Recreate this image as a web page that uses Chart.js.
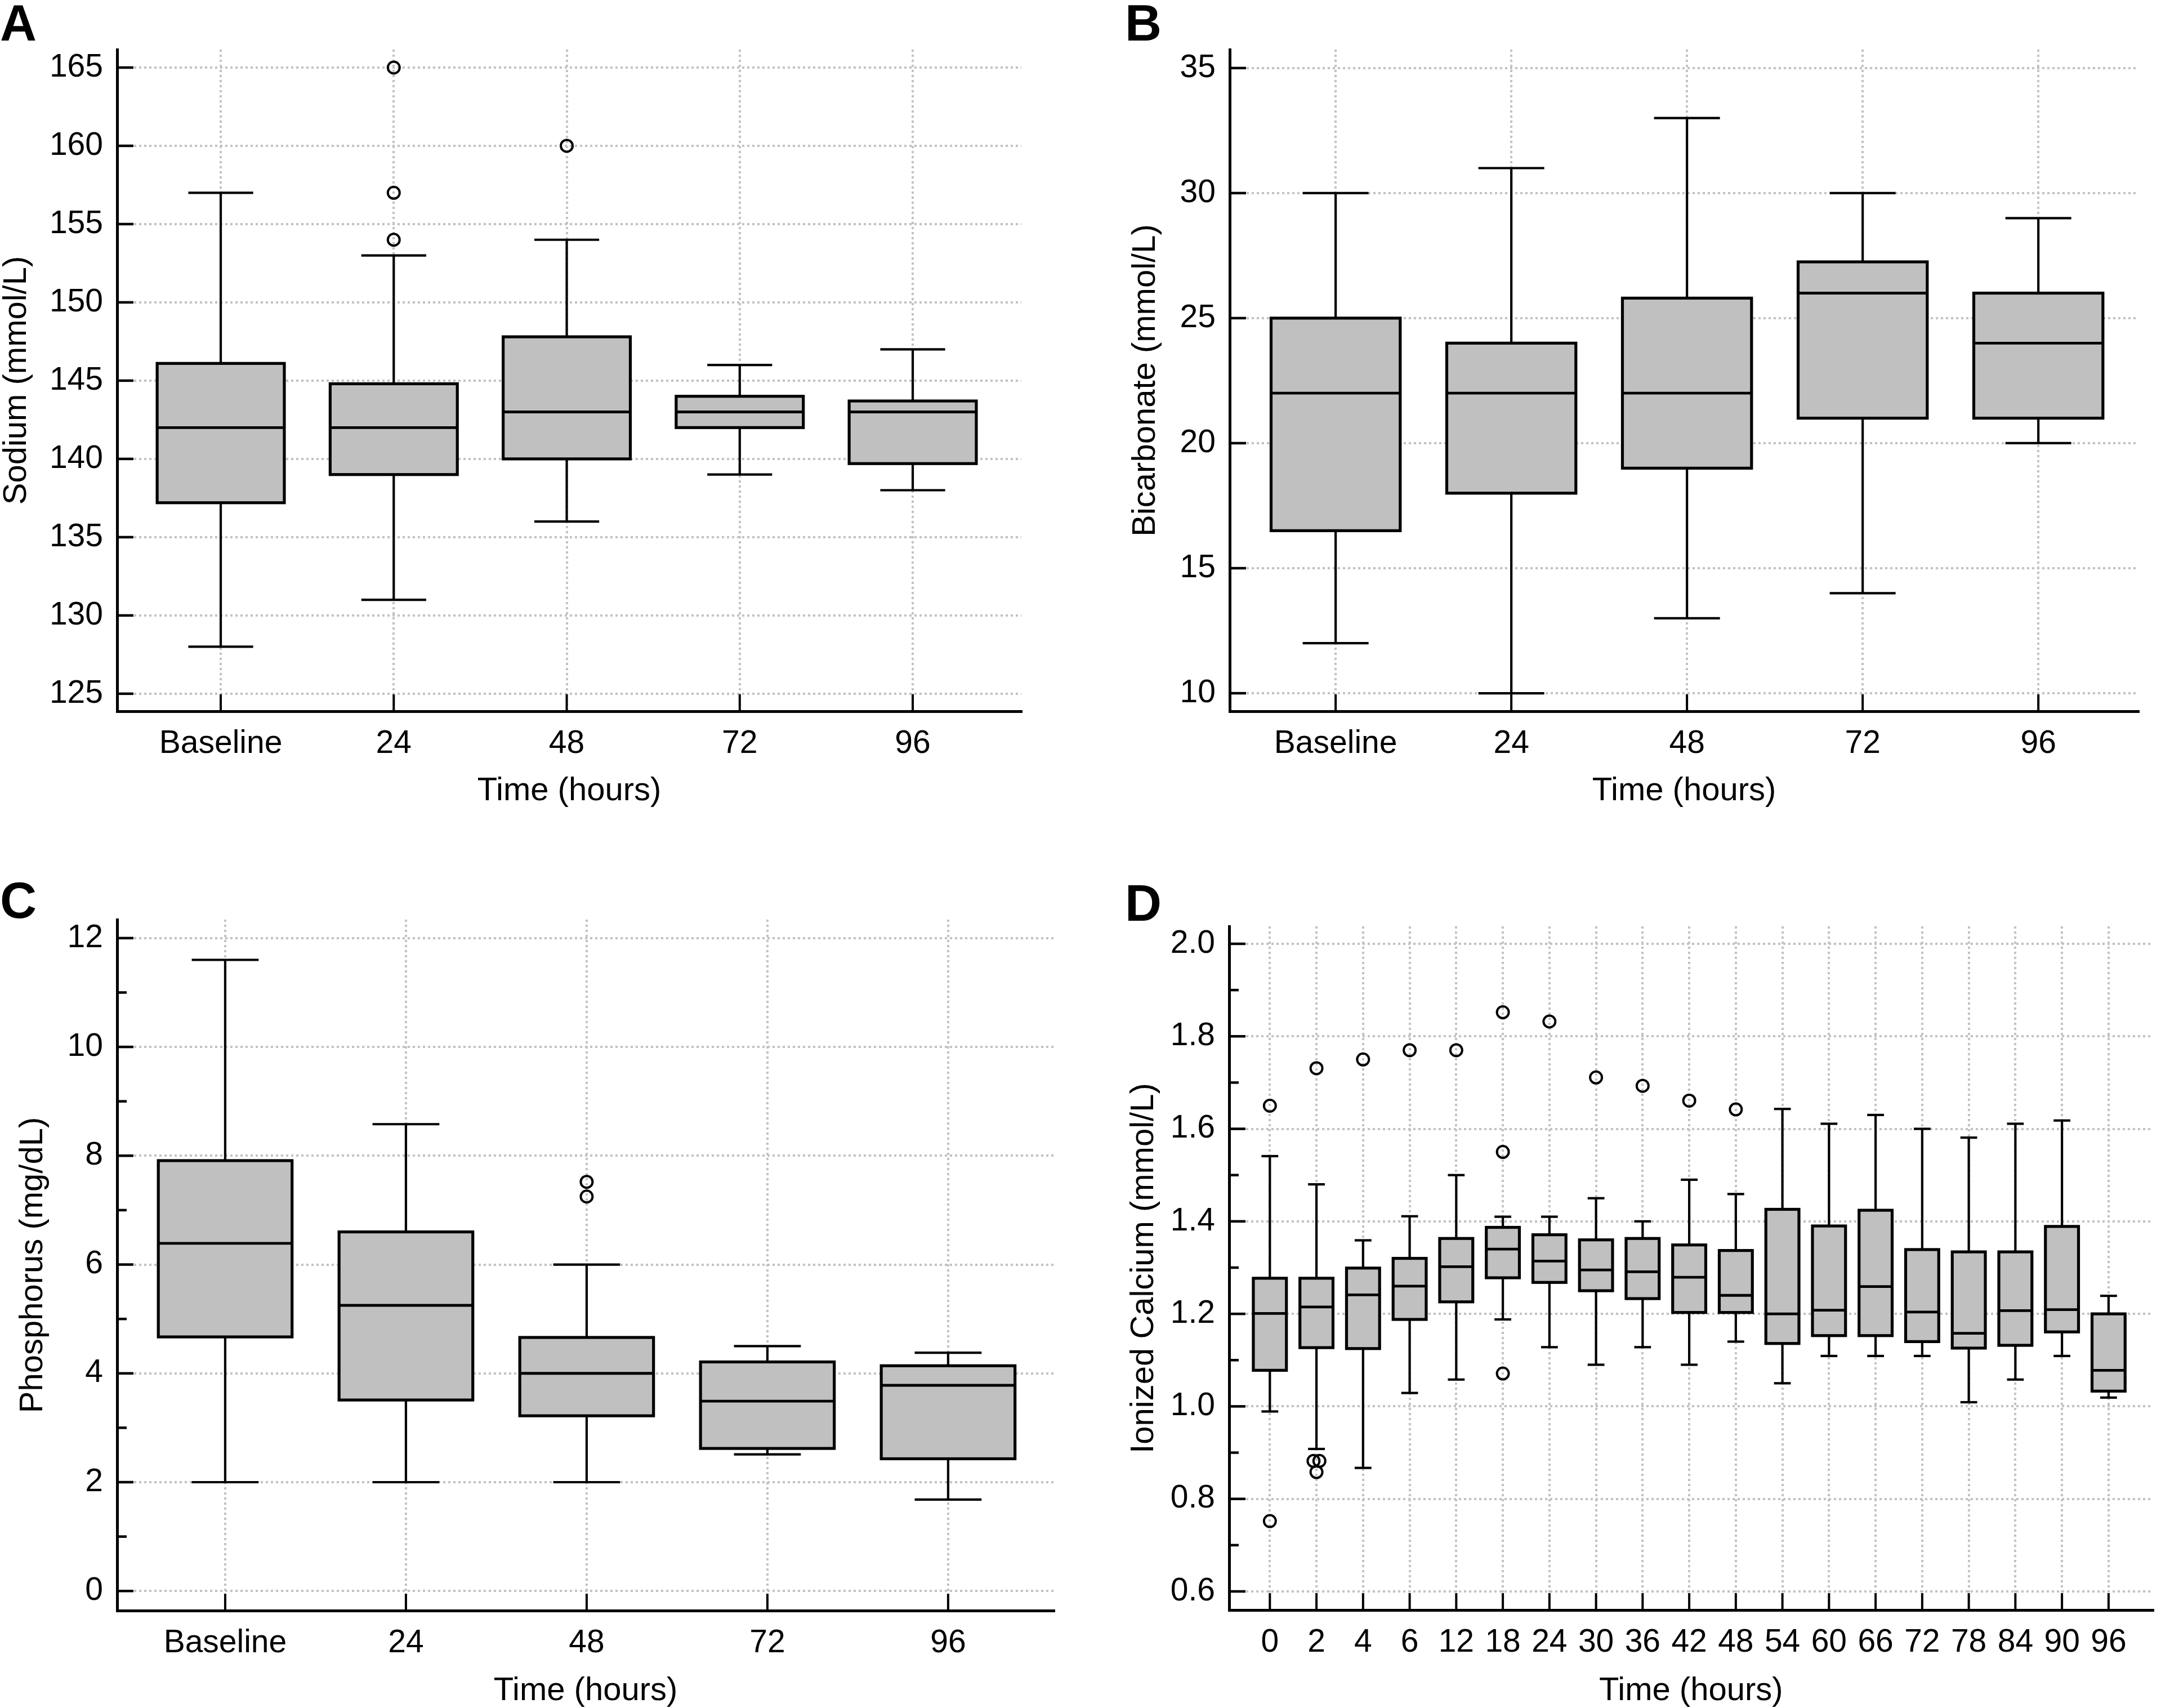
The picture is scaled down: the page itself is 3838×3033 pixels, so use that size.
<!DOCTYPE html>
<html>
<head>
<meta charset="utf-8">
<script src="https://cdn.jsdelivr.net/npm/chart.js@4.4.1/dist/chart.umd.min.js"></script>
<style>
  body { margin: 0; background: #fff; width: 3838px; height: 3033px; position: relative; overflow: hidden; }
  canvas { position: absolute; }
</style>
</head>
<body>
<canvas id="chartA"></canvas>
<canvas id="chartB"></canvas>
<canvas id="chartC"></canvas>
<canvas id="chartD"></canvas>
<script>
// DADES
const timeLabels = ['Baseline', '24', '48', '72', '96'];

// A - sodi
const sodiumTicks = [125, 130, 135, 140, 145, 150, 155, 160, 165];
const sodiumMin = [128, 131, 136, 139, 138];
const sodiumQ1 = [137.2, 139.0, 140.0, 142.0, 139.7];
const sodiumMedian = [142, 142, 143, 143, 143];
const sodiumQ3 = [146.1, 144.8, 147.8, 144.0, 143.7];
const sodiumMax = [157, 153, 154, 146, 147];
const sodiumOutliers = [[], [165, 157, 154], [160], [], []];

// B - bicarbonat
const bicarbTicks = [10, 15, 20, 25, 30, 35];
const bicarbMin = [12, 10, 13, 14, 20];
const bicarbQ1 = [16.5, 18, 19, 21, 21];
const bicarbMedian = [22, 22, 22, 26, 24];
const bicarbQ3 = [25, 24, 25.8, 27.25, 26];
const bicarbMax = [30, 31, 33, 30, 29];
const bicarbOutliers = [[], [], [], [], []];

// C - fosfor
const phosTicks = [0, 2, 4, 6, 8, 10, 12];
const phosMinorTicks = [1, 3, 5, 7, 9, 11];
const phosMin = [2.0, 2.0, 2.0, 2.51, 1.68];
const phosQ1 = [4.67, 3.51, 3.22, 2.62, 2.43];
const phosMedian = [6.39, 5.25, 4.0, 3.49, 3.78];
const phosQ3 = [7.91, 6.6, 4.66, 4.21, 4.14];
const phosMax = [11.6, 8.58, 6.0, 4.5, 4.38];
const phosOutliers = [[], [], [7.52, 7.25], [], []];

// D - calci ionitzat
const calciumLabels = ['0', '2', '4', '6', '12', '18', '24', '30', '36', '42', '48', '54', '60', '66', '72', '78', '84', '90', '96'];
const calciumTicks = [0.6, 0.8, 1.0, 1.2, 1.4, 1.6, 1.8, 2.0];
const calciumMinorTicks = [0.7, 0.9, 1.1, 1.3, 1.5, 1.7, 1.9];
const calciumMin = [0.989, 0.908, 0.867, 1.029, 1.058, 1.188, 1.128, 1.090, 1.128, 1.090, 1.140, 1.050, 1.109, 1.109, 1.109, 1.009, 1.058, 1.109, 1.019];
const calciumQ1 = [1.078, 1.127, 1.125, 1.188, 1.226, 1.278, 1.268, 1.250, 1.233, 1.203, 1.203, 1.136, 1.153, 1.153, 1.140, 1.126, 1.132, 1.161, 1.033];
const calciumMedian = [1.201, 1.215, 1.241, 1.260, 1.302, 1.340, 1.314, 1.295, 1.291, 1.279, 1.240, 1.200, 1.208, 1.259, 1.204, 1.158, 1.207, 1.209, 1.078];
const calciumQ3 = [1.277, 1.277, 1.299, 1.320, 1.363, 1.387, 1.371, 1.360, 1.363, 1.349, 1.337, 1.426, 1.390, 1.424, 1.339, 1.334, 1.334, 1.389, 1.200];
const calciumMax = [1.541, 1.480, 1.359, 1.411, 1.500, 1.410, 1.410, 1.450, 1.400, 1.490, 1.459, 1.643, 1.611, 1.630, 1.600, 1.581, 1.611, 1.618, 1.239];
const calciumOutliers = [[1.65, 0.752], [1.731, 0.882, 0.882, 0.858], [1.75], [1.77], [1.77], [1.852, 1.55, 1.071], [1.832], [1.711], [1.693], [1.661], [1.642], [], [], [], [], [], [], [], []];

const fontFamily = "'Liberation Sans', Arial, Helvetica, sans-serif";
const gridColor = '#c2c2c2';
const boxFill = '#c0c0c0';

// dibuixa caixes, bigotis i marques amb les escales del grafic
function boxPlugin(p) {
  return {
    id: 'boxes',
    beforeDatasetsDraw(chart) {
      const ctx = chart.ctx;
      const a = chart.chartArea;
      const x = chart.scales.x;
      const y = chart.scales.y;
      function line(x1, y1, x2, y2) {
        ctx.beginPath();
        ctx.moveTo(x1, y1);
        ctx.lineTo(x2, y2);
        ctx.stroke();
      }
      ctx.save();
      ctx.strokeStyle = '#000';
      ctx.lineCap = 'butt';

      // marques cap endins
      ctx.lineWidth = 4.5;
      p.ticks.forEach((v) => {
        const py = y.getPixelForValue(v);
        line(a.left, py, a.left + 29, py);
      });
      p.minorTicks.forEach((v) => {
        const py = y.getPixelForValue(v);
        line(a.left, py, a.left + 17, py);
      });
      ctx.lineWidth = 4;
      p.labels.forEach((lab, i) => {
        const px = x.getPixelForValue(i);
        line(px, a.bottom, px, a.bottom - 30);
      });

      p.labels.forEach((lab, i) => {
        const xc = x.getPixelForValue(i);
        const hw = x.getPixelForValue(i + p.boxWidth / 2) - xc;
        const cw = x.getPixelForValue(i + p.capWidth / 2) - xc;
        const yMin = y.getPixelForValue(p.min[i]);
        const yQ1 = y.getPixelForValue(p.q1[i]);
        const yMed = y.getPixelForValue(p.median[i]);
        const yQ3 = y.getPixelForValue(p.q3[i]);
        const yMax = y.getPixelForValue(p.max[i]);

        ctx.lineWidth = 4.2;
        line(xc, yMax, xc, yQ3);
        line(xc, yQ1, xc, yMin);
        line(xc - cw, yMax, xc + cw, yMax);
        line(xc - cw, yMin, xc + cw, yMin);

        ctx.fillStyle = boxFill;
        ctx.fillRect(xc - hw, yQ3, 2 * hw, yQ1 - yQ3);
        ctx.lineWidth = 5.2;
        ctx.strokeRect(xc - hw, yQ3, 2 * hw, yQ1 - yQ3);
        ctx.lineWidth = 4.8;
        line(xc - hw, yMed, xc + hw, yMed);
      });
      ctx.restore();
    }
  };
}

function makePanel(p) {
  const canvas = document.getElementById(p.id);
  canvas.width = p.w;
  canvas.height = p.h;
  canvas.style.left = p.left + 'px';
  canvas.style.top = p.top + 'px';
  canvas.style.width = p.w + 'px';
  canvas.style.height = p.h + 'px';

  // punts atipics; si un valor es repeteix es separa una mica en horitzontal
  const outlierPoints = [];
  p.outliers.forEach((vals, i) => {
    const counts = {};
    vals.forEach((v) => { counts[v] = (counts[v] || 0) + 1; });
    const placed = {};
    vals.forEach((v) => {
      const k = placed[v] || 0;
      placed[v] = k + 1;
      const dx = counts[v] > 1 ? (k - (counts[v] - 1) / 2) * p.jitter : 0;
      outlierPoints.push({ x: i + dx, y: v });
    });
  });

  const tickFont = { family: fontFamily, size: 57 };
  const titleFont = { family: fontFamily, size: 58, lineHeight: 1 };

  new Chart(canvas, {
    type: 'scatter',
    data: {
      datasets: [{
        data: outlierPoints,
        pointRadius: 10.5,
        pointHoverRadius: 10.5,
        pointBorderWidth: 4,
        pointBorderColor: '#000',
        pointBackgroundColor: 'rgba(255,255,255,0)'
      }]
    },
    options: {
      responsive: false,
      animation: false,
      devicePixelRatio: 1,
      events: [],
      layout: { padding: { left: 0, top: 0, right: p.padRight, bottom: 0 } },
      plugins: {
        legend: { display: false },
        tooltip: { enabled: false },
        title: {
          display: true,
          text: p.letter,
          align: 'start',
          color: '#000',
          font: { family: fontFamily, size: 90, weight: 'bold', lineHeight: p.letterLh + 'px' },
          padding: { top: p.letterPt, bottom: 88 - p.letterLh - p.letterPt }
        }
      },
      scales: {
        x: {
          type: 'linear',
          min: p.xMin,
          max: p.xMax,
          afterBuildTicks: (s) => { s.ticks = p.labels.map((lab, i) => ({ value: i })); },
          afterFit: (s) => { s.height = p.h - p.chartBottom; },
          ticks: {
            callback: (v) => p.labels[Math.round(v)],
            font: tickFont,
            color: '#000',
            padding: 24,
            maxRotation: 0,
            autoSkip: false
          },
          grid: { color: gridColor, lineWidth: 4, drawTicks: false },
          border: { display: true, color: '#000', width: 5, dash: [4, 5] },
          title: { display: true, text: 'Time (hours)', color: '#000', font: titleFont, padding: { top: 0, bottom: p.xTitlePb } }
        },
        y: {
          type: 'linear',
          min: p.yMin,
          max: p.yMax,
          afterBuildTicks: (s) => { s.ticks = p.ticks.map((v) => ({ value: v })); },
          afterFit: (s) => { s.width = p.axisLeft - p.left; },
          ticks: {
            callback: (v) => p.fmt(v),
            font: tickFont,
            color: '#000',
            padding: 25
          },
          grid: { color: gridColor, lineWidth: 4, drawTicks: false },
          border: { display: true, color: '#000', width: 5, dash: [4, 5] },
          title: { display: true, text: p.yTitle, color: '#000', font: titleFont, padding: { top: p.yTitlePt, bottom: 0 } }
        }
      }
    },
    plugins: [boxPlugin(p)]
  });
}

makePanel({
  id: 'chartA', letter: 'A', left: 0, top: 0, w: 1880, h: 1440,
  axisLeft: 208, chartBottom: 1263, padRight: 66,
  xMin: -0.599, xMax: 4.628, yMin: 123.88, yMax: 166.15,
  letterLh: 80, letterPt: 7, yTitlePt: 1, xTitlePb: 6,
  labels: timeLabels, ticks: sodiumTicks, minorTicks: [], fmt: (v) => String(v),
  yTitle: 'Sodium (mmol/L)', boxWidth: 0.735, capWidth: 0.375, jitter: 0.07,
  min: sodiumMin, q1: sodiumQ1, median: sodiumMedian, q3: sodiumQ3, max: sodiumMax, outliers: sodiumOutliers
});

makePanel({
  id: 'chartB', letter: 'B', left: 1998, top: 0, w: 1840, h: 1440,
  axisLeft: 2184, chartBottom: 1263, padRight: 40,
  xMin: -0.603, xMax: 4.57, yMin: 9.28, yMax: 35.74,
  letterLh: 80, letterPt: 7, yTitlePt: 8, xTitlePb: 6,
  labels: timeLabels, ticks: bicarbTicks, minorTicks: [], fmt: (v) => String(v),
  yTitle: 'Bicarbonate (mmol/L)', boxWidth: 0.735, capWidth: 0.375, jitter: 0.07,
  min: bicarbMin, q1: bicarbQ1, median: bicarbMedian, q3: bicarbQ3, max: bicarbMax, outliers: bicarbOutliers
});

makePanel({
  id: 'chartC', letter: 'C', left: 0, top: 1545, w: 1900, h: 1488,
  axisLeft: 208, chartBottom: 1315, padRight: 28,
  xMin: -0.598, xMax: 4.586, yMin: -0.36, yMax: 12.34,
  letterLh: 56, letterPt: 32, yTitlePt: 30, xTitlePb: 1,
  labels: timeLabels, ticks: phosTicks, minorTicks: phosMinorTicks, fmt: (v) => String(v),
  yTitle: 'Phosphorus (mg/dL)', boxWidth: 0.74, capWidth: 0.37, jitter: 0.07,
  min: phosMin, q1: phosQ1, median: phosMedian, q3: phosQ3, max: phosMax, outliers: phosOutliers
});

makePanel({
  id: 'chartD', letter: 'D', left: 1998, top: 1557, w: 1840, h: 1476,
  axisLeft: 2183, chartBottom: 1302, padRight: 0,
  xMin: -0.874, xMax: 18.95, yMin: 0.5598, yMax: 2.0377,
  letterLh: 70, letterPt: 18, yTitlePt: 5, xTitlePb: 1,
  labels: calciumLabels, ticks: calciumTicks, minorTicks: calciumMinorTicks, fmt: (v) => v.toFixed(1),
  yTitle: 'Ionized Calcium (mmol/L)', boxWidth: 0.71, capWidth: 0.36, jitter: 0.126,
  min: calciumMin, q1: calciumQ1, median: calciumMedian, q3: calciumQ3, max: calciumMax, outliers: calciumOutliers
});
</script>
</body>
</html>
